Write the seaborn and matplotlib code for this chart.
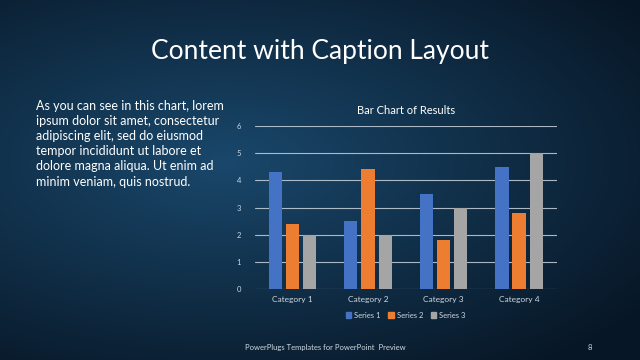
import numpy as np
import pandas as pd
import matplotlib
matplotlib.use("Agg")
import matplotlib.pyplot as plt
import seaborn as sns

categories = ["Category 1", "Category 2", "Category 3", "Category 4"]
series_names = ["Series 1", "Series 2", "Series 3"]
series1 = [4.3, 2.5, 3.5, 4.5]
series2 = [2.4, 4.4, 1.8, 2.8]
series3 = [2.0, 2.0, 3.0, 5.0]
yticks = [0, 1, 2, 3, 4, 5, 6]
colors = ["#4472C4", "#ED7D31", "#A5A5A5"]

df = pd.DataFrame({
    "Category": categories * 3,
    "Series": [s for s in series_names for _ in categories],
    "Value": series1 + series2 + series3,
})

sns.set_theme(style="white")
plt.rcParams["font.family"] = ["Lato", "DejaVu Sans"]

fig = plt.figure(figsize=(6.4, 3.6), dpi=100)

# background gradient
bg = fig.add_axes([0, 0, 1, 1])
yy, xx = np.mgrid[0:1:180j, 0:1:320j]
d = np.sqrt(((xx - 0.35) / 0.8) ** 2 + ((yy - 0.45) / 0.7) ** 2)
t = np.clip(1 - d, 0, 1)
dark = np.array([0.03, 0.09, 0.15])
light = np.array([0.10, 0.28, 0.42])
img = dark[None, None, :] + (light - dark)[None, None, :] * t[..., None]
bg.imshow(img, extent=[0, 1, 0, 1], aspect="auto", origin="upper")
bg.set_xlim(0, 1); bg.set_ylim(0, 1)
bg.axis("off")

fig.text(0.5, 0.857, "Content with Caption Layout", ha="center", va="center",
         fontsize=19, color="white")
body = ("As you can see in this chart, lorem\nipsum dolor sit amet, consectetur\n"
        "adipiscing elit, sed do eiusmod\ntempor incididunt ut labore et\n"
        "dolore magna aliqua. Ut enim ad\nminim veniam, quis nostrud.")
fig.text(0.057, 0.722, body, ha="left", va="top", fontsize=9.0, color="white",
         linespacing=1.31)
fig.text(0.383, 0.036, "PowerPlugs Templates for PowerPoint  Preview", ha="left",
         va="center", fontsize=5.5, color="#d0d8e0")
fig.text(0.921, 0.036, "8", ha="center", va="center", fontsize=5.5, color="#d0d8e0")

ax = fig.add_axes([0.398, 0.197, 0.472, 0.453])
ax.patch.set_alpha(0)
sns.barplot(data=df, x="Category", y="Value", hue="Series", palette=colors,
            width=0.68, gap=0.23, ax=ax, legend=False, saturation=1,
            linewidth=0, edgecolor="none")
ax.set_ylim(0, 6)
ax.set_xlim(-0.5, 3.5)
ax.set_yticks(yticks)
ax.set_yticklabels([str(v) for v in yticks], fontsize=5.5, color="#d0d8e0")
ax.tick_params(axis="x", labelsize=6, colors="#d0d8e0", length=0, pad=5)
ax.tick_params(axis="y", length=0, pad=10)
ax.set_xlabel(""); ax.set_ylabel("")
for v in yticks:
    ax.axhline(v, color="#c8d2dc", lw=0.8, alpha=0.85, zorder=0)
for s in ax.spines.values():
    s.set_visible(False)
ax.set_title("Bar Chart of Results", fontsize=8, color="white", pad=9)

handles = [plt.Rectangle((0, 0), 1, 1, color=c) for c in colors]
fig.legend(handles, series_names, loc="center", bbox_to_anchor=(0.634, 0.125),
           ncol=3, frameon=False, fontsize=5.5, labelcolor="#d0d8e0",
           handlelength=0.7, handleheight=0.7, handletextpad=0.4, columnspacing=1.0)

fig.savefig("out.png", dpi=100)
